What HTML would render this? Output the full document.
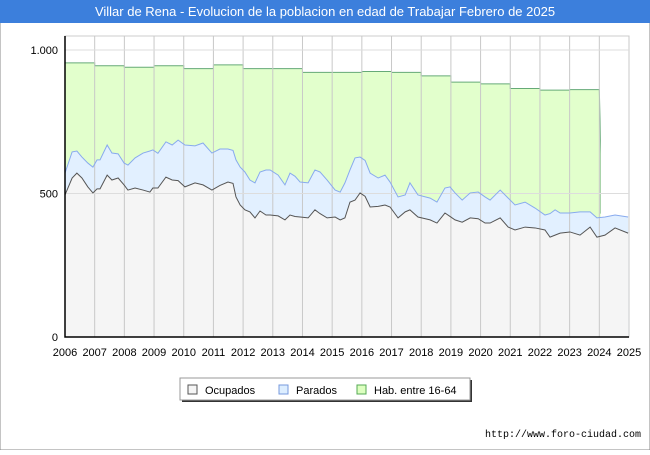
<!DOCTYPE html>
<html><head><meta charset="utf-8"><style>
body{margin:0;background:#fff;font-family:"Liberation Sans",sans-serif;}
</style></head><body>
<svg id="chart" width="650" height="450" xmlns="http://www.w3.org/2000/svg" font-family="Liberation Sans, sans-serif">
<rect x="0" y="0" width="650" height="450" fill="#fff" stroke="#888"/>
<rect x="0" y="0" width="650" height="23" fill="#3c7fdc"/>
<text x="325" y="16" text-anchor="middle" fill="#fff" font-size="13">Villar de Rena - Evolucion de la poblacion en edad de Trabajar Febrero de 2025</text>
<g id="plot"></g>
<g>
<rect x="182" y="380" width="290" height="22" fill="#333"/>
<rect x="180" y="378" width="290" height="22" fill="#fff" stroke="#999"/>
<rect x="188" y="385" width="9" height="9" fill="#f5f5f5" stroke="#555"/>
<text x="205" y="394" font-size="11">Ocupados</text>
<rect x="279" y="385" width="9" height="9" fill="#ddeeff" stroke="#7799dd"/>
<text x="296" y="394" font-size="11">Parados</text>
<rect x="357" y="385" width="9" height="9" fill="#ddffc0" stroke="#55aa55"/>
<text x="374" y="394" font-size="11">Hab. entre 16-64</text>
</g>
<text x="641" y="437" text-anchor="end" font-size="10" font-family="Liberation Mono, monospace">http://www.foro-ciudad.com</text>
</svg>
<script>
const years=[2006,2007,2008,2009,2010,2011,2012,2013,2014,2015,2016,2017,2018,2019,2020,2021,2022,2023];
const habValues=[955,945,940,945,935,948,935,935,922,922,925,922,910,888,882,866,860,862];
const dates=[0,.24,.40,.57,.77,.94,1.08,1.18,1.42,1.58,1.79,1.99,2.12,2.36,2.63,2.86,2.96,3.13,3.40,3.61,3.81,4.04,4.38,4.65,4.95,5.22,5.49,5.66,5.76,5.90,6.06,6.23,6.40,6.57,6.77,6.91,7.18,7.41,7.58,7.75,7.92,8.19,8.42,8.59,8.83,9.10,9.27,9.43,9.60,9.77,9.94,10.11,10.28,10.55,10.78,10.95,11.22,11.46,11.62,11.89,12.30,12.53,12.80,12.97,13.14,13.38,13.65,13.92,14.15,14.32,14.66,14.93,15.16,15.50,15.84,16.17,16.34,16.51,16.68,17.01,17.35,17.69,17.92,18.19,18.53,18.97];
const parados=[571,645,648,627,606,592,617,617,669,641,638,606,599,624,641,648,652,640,680,669,686,669,666,676,641,655,655,650,617,592,575,547,537,575,582,582,564,530,571,560,540,537,582,575,547,512,505,537,582,624,627,615,571,554,564,540,488,495,537,495,484,470,519,523,502,477,502,505,488,477,512,484,460,470,449,425,430,443,432,432,436,436,415,418,425,418];
const ocupados=[495,554,571,554,523,502,516,516,564,547,554,530,512,519,512,505,519,519,557,547,545,523,537,530,512,528,540,535,488,460,443,436,415,439,425,425,422,408,425,420,418,415,443,430,415,418,408,415,470,477,502,490,453,455,460,453,415,436,443,418,408,397,432,420,408,400,415,412,397,397,415,383,373,383,380,373,348,355,362,366,355,383,348,355,380,362];
const NS='http://www.w3.org/2000/svg';
const X0=65,X1=629,Y0=337,YT=36;
const xs=t=>X0+(t-2006)*(X1-X0)/19;
const ys=v=>Y0-v*(Y0-50)/1000;
const plot=document.getElementById('plot');
function mk(tag,attrs,parent){const e=document.createElementNS(NS,tag);for(const k in attrs)e.setAttribute(k,attrs[k]);(parent||plot).appendChild(e);return e;}
const bg=mk('rect',{x:X0,y:YT,width:X1-X0,height:Y0-YT,fill:'#fff',stroke:'#ccc'});


// hab area
let hp=`M${xs(2006)},${ys(0)}`;
years.forEach((y,i)=>{hp+=` L${xs(y)},${ys(habValues[i])} L${xs(y+1)},${ys(habValues[i])}`;});
hp+=` L${xs(2024.05)},${ys(640)} L${xs(2024.05)},${ys(0)} Z`;
const hab=mk('path',{d:hp,fill:'#e2ffcc',stroke:'none'});


let hl='';years.forEach((y,i)=>{hl+=(i?' L':'M')+`${xs(y)},${ys(habValues[i])} L${xs(y+1)},${ys(habValues[i])}`;});
hl+=` L${xs(2024.05)},${ys(640)} L${xs(2024.05)},${ys(430)}`;
const habLine=mk('path',{d:hl,fill:'none',stroke:'#66aa77','stroke-width':1});


// white after 2024 above parados
const wp=mk('rect',{x:xs(2024.05),y:YT+1,width:X1-xs(2024.05)-1,height:Y0-YT-1,fill:'#fff'});


function line(arr){return dates.map((d,i)=>`${i?'L':'M'}${xs(2006+d)},${ys(arr[i])}`).join(' ');}
const pa=mk('path',{d:line(parados)+` L${xs(2006+dates[dates.length-1])},${ys(0)} L${xs(2006)},${ys(0)} Z`,fill:'#e2f0ff'});


const oa=mk('path',{d:line(ocupados)+` L${xs(2006+dates[dates.length-1])},${ys(0)} L${xs(2006)},${ys(0)} Z`,fill:'#f5f5f5'});


// grid
for(let y=2006;y<=2025;y++){const g=mk('line',{x1:xs(y),x2:xs(y),y1:YT,y2:Y0,stroke:'#c8c8c8'});


const t=mk('text',{x:xs(y),y:356,'text-anchor':'middle','font-size':11});t.textContent=y;

}
[0,500,1000].forEach((v,i)=>{const g=mk('line',{x1:X0,x2:X1,y1:ys(v),y2:ys(v),stroke:'#ddd'});


const t=mk('text',{x:58,y:ys(v)+4,'text-anchor':'end','font-size':11});t.textContent=['0','500','1.000'][i];

});
const pl=mk('path',{d:line(parados),fill:'none',stroke:'#88aaee','stroke-width':1});


const ol=mk('path',{d:line(ocupados),fill:'none',stroke:'#555','stroke-width':1});


const ax=mk('path',{d:`M${X0},${YT} L${X0},${Y0} L${X1},${Y0}`,fill:'none',stroke:'#000','stroke-width':1.5});


</script>
</body></html>
